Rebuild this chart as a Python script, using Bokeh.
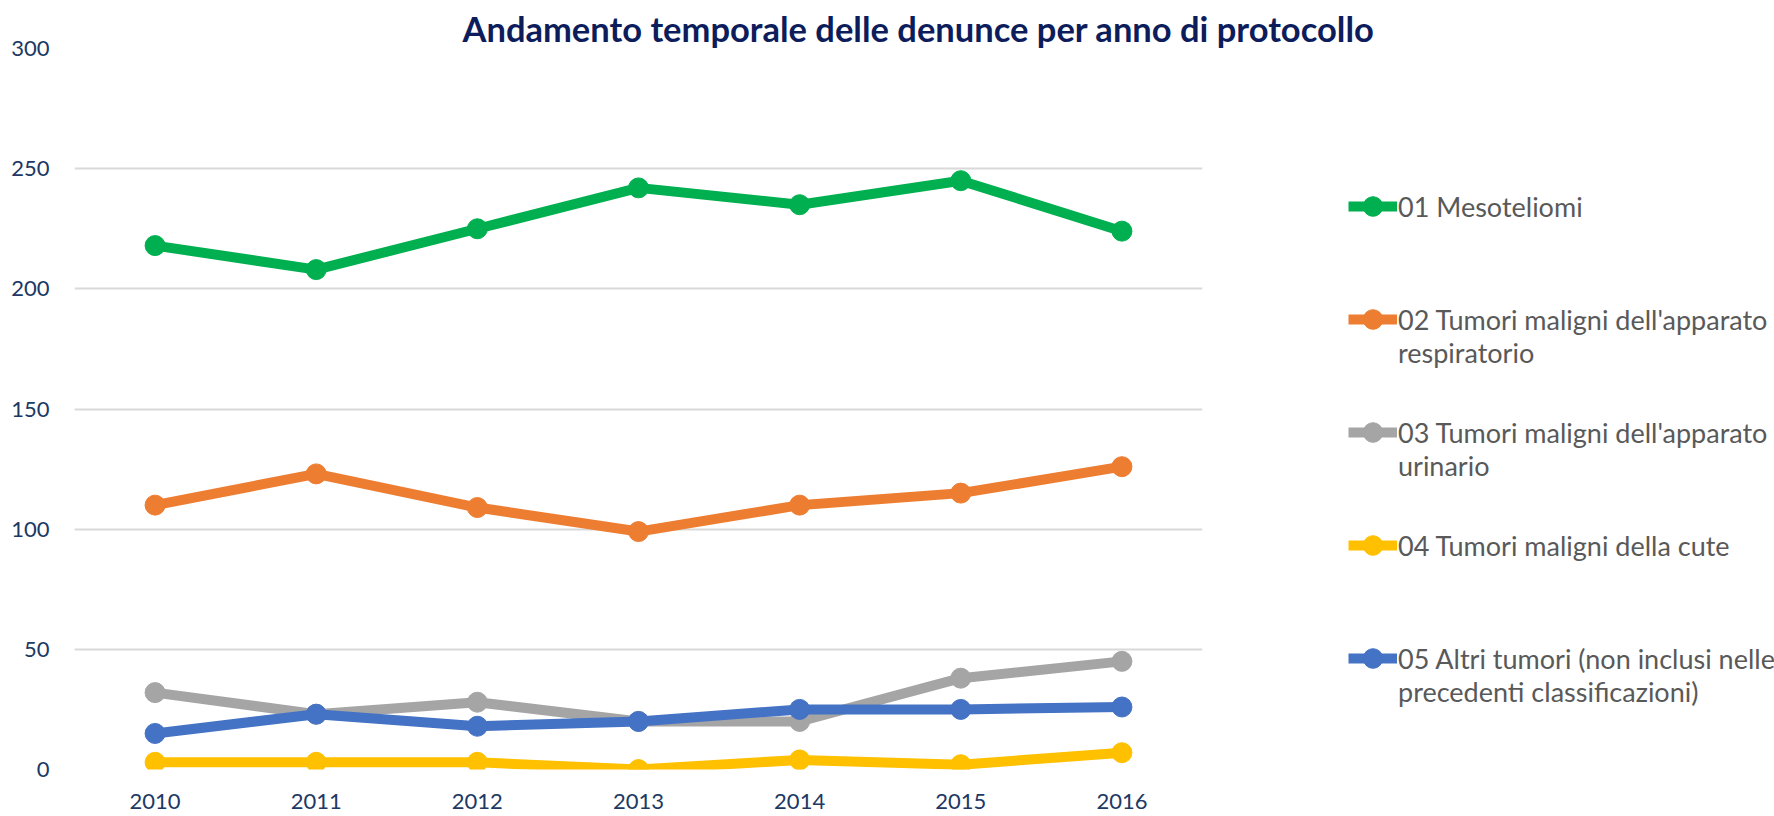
from bokeh.plotting import figure
from bokeh.models import Range1d, FactorRange, Legend, LegendItem, FixedTicker, Title
from bokeh.embed import file_html
from bokeh.resources import INLINE

# ---- data ----
years = ["2010", "2011", "2012", "2013", "2014", "2015", "2016"]
mesoteliomi = [218, 208, 225, 242, 235, 245, 224]
respiratorio = [110, 123, 109, 99, 110, 115, 126]
urinario = [32, 23, 28, 20, 20, 38, 45]
cute = [3, 3, 3, 0, 4, 2, 7]
altri = [15, 23, 18, 20, 25, 25, 26]
y_ticks = [0, 50, 100, 150, 200, 250, 300]

series_first_lines = [
    "01 Mesoteliomi",
    "02 Tumori maligni dell'apparato",
    "03 Tumori maligni dell'apparato",
    "04 Tumori maligni della cute",
    "05 Altri tumori (non inclusi nelle",
]
series_second_lines = [" ", "respiratorio", "urinario", " ", "precedenti classificazioni)"]
series_values = [mesoteliomi, respiratorio, urinario, cute, altri]
colors = ["#00B050", "#ED7D31", "#A5A5A5", "#FFC000", "#4472C4"]

title_text = "Andamento temporale delle denunce per anno di protocollo"

# ---- layout constants ----
FONT = "Lato"
FRAME_L, FRAME_T, FRAME_W, FRAME_H = 74, 48, 1128, 721
TOTAL_W, TOTAL_H = 1774, 816

p = figure(
    x_range=FactorRange(*years),
    y_range=Range1d(0, 300),
    frame_width=FRAME_W, frame_height=FRAME_H,
    min_border_left=FRAME_L, min_border_top=FRAME_T,
    min_border_right=TOTAL_W - FRAME_L - FRAME_W,
    min_border_bottom=TOTAL_H - FRAME_T - FRAME_H,
    output_backend="svg", toolbar_location=None,
    outline_line_color=None, background_fill_color="white",
)

p.title = Title(text=title_text, align="left", offset=462 - FRAME_L,
                text_font=FONT, text_font_size="34.5px", text_font_style="bold",
                text_color="#0D1D5C", standoff=0)

# axes
p.yaxis.ticker = FixedTicker(ticks=y_ticks)
for ax in (p.xaxis[0], p.yaxis[0]):
    ax.axis_line_color = None
    ax.major_tick_line_color = None
    ax.minor_tick_line_color = None
    ax.major_label_text_font = FONT
    ax.major_label_text_font_size = "22px"
    ax.major_label_text_color = "#203864"
p.yaxis.major_label_standoff = 19
p.xaxis.major_label_standoff = 18

p.xgrid.visible = False
p.ygrid.grid_line_color = "#D9D9D9"
p.ygrid.grid_line_width = 2

# series
items = []
for first, second, vals, col in zip(series_first_lines, series_second_lines, series_values, colors):
    lr = p.line(years, vals, line_color=col, line_width=10, line_join="round")
    sr = p.scatter(years, vals, size=20, fill_color=col, line_color=col)
    # blank line above so the sample sits on the first text line
    items.append(LegendItem(label=" \n" + first + "\n" + second, renderers=[lr, sr]))

FONT_PX = 27
LH = 1.2 * FONT_PX      # rendered legend line pitch
PITCH = 111.5           # distance between legend entries (px)
item_h = 3 * LH
spacing = PITCH - item_h
legend_h = 5 * item_h + 4 * spacing
legend_top_page = 213 - 1.5 * LH
frame_bottom_page = FRAME_T + FRAME_H

legend = Legend(
    items=items,
    location=(1348 - FRAME_L - FRAME_W, frame_bottom_page - (legend_top_page + legend_h)),
    glyph_width=49, glyph_height=50,
    spacing=int(round(spacing)), padding=0, margin=0, label_standoff=1,
    border_line_color=None, background_fill_alpha=0,
    label_text_font=FONT, label_text_font_size=f"{FONT_PX}px",
    label_text_color="#595959",
)
p.add_layout(legend, "right")

open("out.html", "w").write(file_html(p, INLINE))
